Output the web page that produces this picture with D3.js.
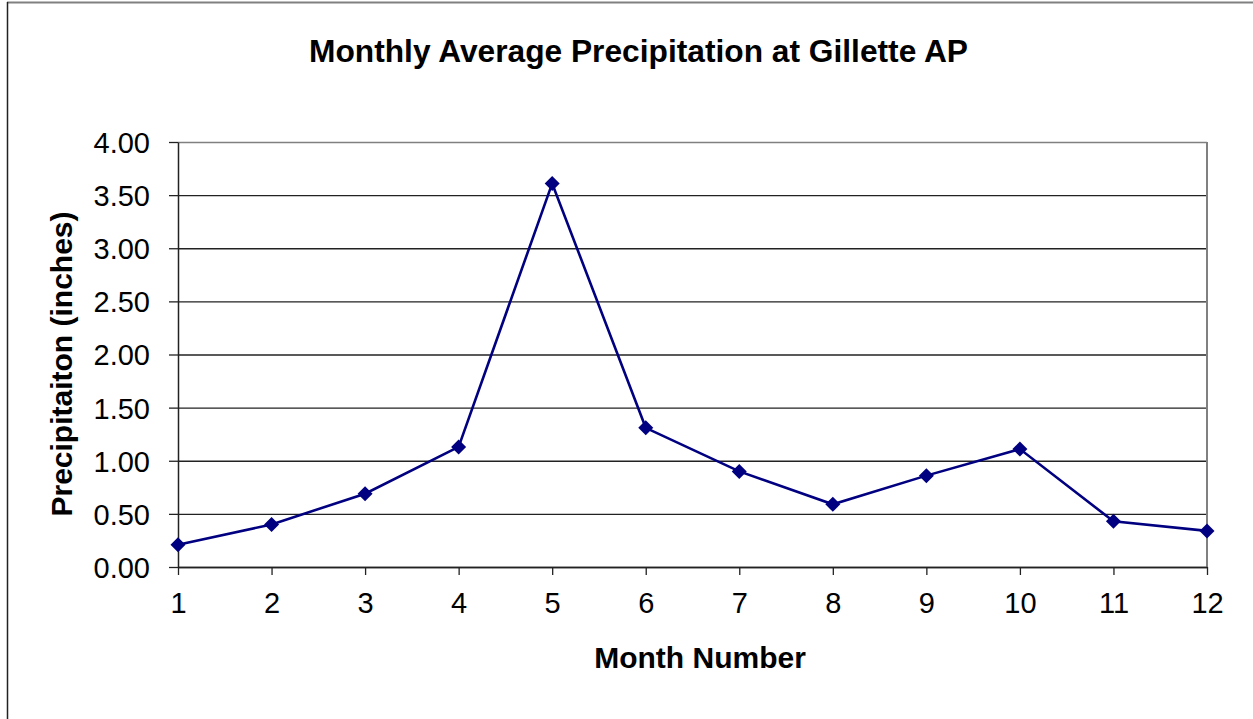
<!DOCTYPE html>
<html>
<head>
<meta charset="utf-8">
<script src="https://cdn.jsdelivr.net/npm/d3@7.9.0/dist/d3.min.js"></script>
<style>
  html, body { margin: 0; padding: 0; background: #fff; }
  svg { display: block; font-family: 'Liberation Sans', Arial, sans-serif; }
</style>
</head>
<body>
<svg id="chart" width="1253" height="719"></svg>
<script>
const months = [1, 2, 3, 4, 5, 6, 7, 8, 9, 10, 11, 12];
const precip = [0.21, 0.40, 0.69, 1.13, 3.61, 1.31, 0.90, 0.59, 0.86, 1.11, 0.43, 0.34];
const yTicks = [0, 0.5, 1, 1.5, 2, 2.5, 3, 3.5, 4];

const width = 1253;
const height = 719;
const margin = { top: 142, right: 46, bottom: 152, left: 178 };
const font = "'Liberation Sans', Arial, sans-serif";

const svg = d3.select('#chart');

// outer chart frame (only top and left edges visible)
svg.append('line').attr('x1', 7).attr('x2', width).attr('y1', 2.5).attr('y2', 2.5)
  .attr('stroke', '#808080').attr('stroke-width', 2);
svg.append('line').attr('x1', 7.5).attr('x2', 7.5).attr('y1', 2).attr('y2', height)
  .attr('stroke', '#222').attr('stroke-width', 1.5);

const x = d3.scaleLinear()
  .domain([1, 12])
  .range([margin.left, width - margin.right]);

const y = d3.scaleLinear()
  .domain([0, 4])
  .range([height - margin.bottom, margin.top]);

const innerWidth = width - margin.left - margin.right;

// gridlines
svg.append('g')
  .attr('transform', `translate(${margin.left},0)`)
  .call(d3.axisLeft(y).tickValues(yTicks).tickFormat('').tickSize(-innerWidth).tickSizeOuter(0))
  .call((g) => g.select('.domain').remove())
  .selectAll('line')
  .attr('stroke', (d) => (d === 4 ? '#808080' : '#222'))
  .attr('stroke-width', 1.3);

// right plot border
svg.append('line')
  .attr('x1', width - margin.right).attr('x2', width - margin.right)
  .attr('y1', y(4)).attr('y2', y(0))
  .attr('stroke', '#808080').attr('stroke-width', 2);

// y axis
const yAxis = svg.append('g')
  .attr('transform', `translate(${margin.left},0)`)
  .call(d3.axisLeft(y).tickValues(yTicks).tickFormat(d3.format('.2f')).tickSize(9).tickSizeOuter(0));
yAxis.attr('font-size', 29).attr('font-family', font);
yAxis.select('.domain').attr('stroke', '#222').attr('stroke-width', 1.5);
yAxis.selectAll('.tick line').attr('stroke', '#222').attr('stroke-width', 1.3);
yAxis.selectAll('.tick text')
  .attr('fill', '#000').attr('x', -28).attr('dy', '0.36em');

// x axis
const xAxis = svg.append('g')
  .attr('transform', `translate(0,${y(0)})`)
  .call(d3.axisBottom(x).tickValues(months).tickFormat(d3.format('d')).tickSize(8).tickSizeOuter(0));
xAxis.attr('font-size', 29).attr('font-family', font);
xAxis.select('.domain').attr('stroke', '#222').attr('stroke-width', 1.5);
xAxis.selectAll('.tick line').attr('stroke', '#222').attr('stroke-width', 1.3);
xAxis.selectAll('.tick text')
  .attr('fill', '#000').attr('y', 46).attr('dy', 0);

// line
const line = d3.line()
  .x((d, i) => x(months[i]))
  .y((d) => y(d));

svg.append('path')
  .datum(precip)
  .attr('fill', 'none')
  .attr('stroke', '#000080')
  .attr('stroke-width', 2.6)
  .attr('d', line);

// diamond markers
svg.append('g')
  .selectAll('path')
  .data(precip)
  .join('path')
  .attr('transform', (d, i) => `translate(${x(months[i])},${y(d)})`)
  .attr('d', 'M0,-7.5L7.5,0L0,7.5L-7.5,0Z')
  .attr('fill', '#000080');

// titles
svg.append('text')
  .attr('x', 638.5).attr('y', 62)
  .attr('text-anchor', 'middle')
  .attr('font-size', 31.5).attr('font-weight', 'bold')
  .attr('textLength', 659).attr('lengthAdjust', 'spacingAndGlyphs')
  .text('Monthly Average Precipitation at Gillette AP');

svg.append('text')
  .attr('x', 700).attr('y', 668)
  .attr('text-anchor', 'middle')
  .attr('font-size', 30).attr('font-weight', 'bold')
  .text('Month Number');

svg.append('text')
  .attr('transform', `translate(72,364) rotate(-90)`)
  .attr('text-anchor', 'middle')
  .attr('font-size', 30).attr('font-weight', 'bold')
  .text('Precipitaiton (inches)');
</script>
</body>
</html>
